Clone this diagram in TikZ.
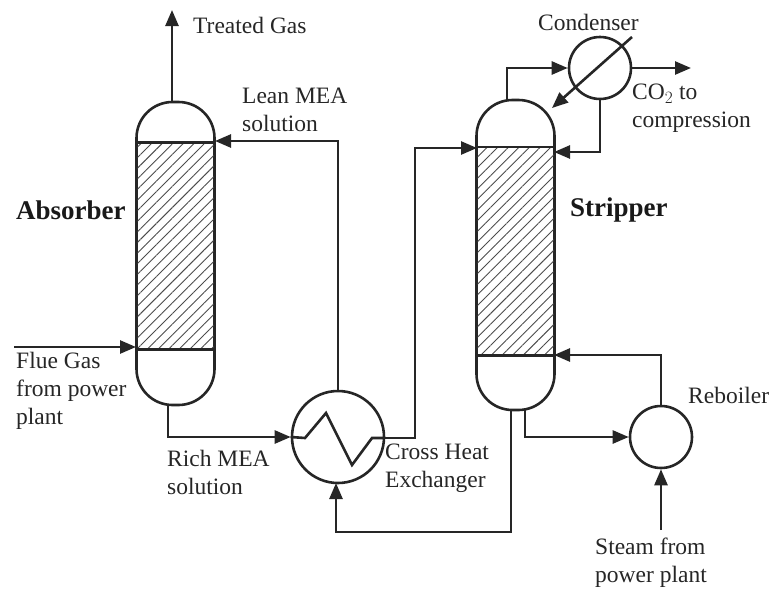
\documentclass[tikz,border=0pt]{standalone}
\usepackage{fontspec}
\setmainfont{Liberation Serif}
\usetikzlibrary{arrows.meta,patterns.meta}

\tikzset{
  line/.style={line width=2.6pt,draw=black!85},
  flow/.style={line,-{Stealth[length=16pt,width=13pt,inset=0pt]}},
  vessel/.style={line,minimum width=78pt,rounded corners=36pt,inner sep=0pt},
  bed/.style={draw=none,minimum width=76pt,inner sep=0pt,
    pattern={Lines[angle=45,distance=7.5pt,line width=.9pt]},pattern color=black!70},
  exchanger/.style={line,circle,inner sep=0pt},
  label/.style={anchor=west,align=left,inner sep=0pt,text=black!85,
    font=\fontsize{23.5}{28}\selectfont},
  title/.style={label,font=\fontsize{27}{28}\selectfont\bfseries,text=black!90}
}

\begin{document}
\begin{tikzpicture}[x=1pt,y=-1pt]
  \useasboundingbox (0,0) rectangle (771,592);

  \node[vessel,minimum height=303pt] (absorber) at (175.5,253.5) {};
  \node[vessel,minimum height=310pt] (stripper) at (515.5,255) {};
  \node[bed,minimum height=206pt] (absbed) at (175.5,246) {};
  \node[bed,minimum height=208pt] (stripbed) at (515.5,251) {};
  \node[exchanger,minimum size=92pt] (cross) at (338,437) {};
  \node[exchanger,minimum size=62pt] (condenser) at (600,68) {};
  \node[exchanger,minimum size=62pt] (reboiler) at (661,437) {};

  \draw[line] (absbed.north west) -- (absbed.north east);
  \draw[line] (absbed.south west) -- (absbed.south east);
  \draw[line] (stripbed.north west) -- (stripbed.north east);
  \draw[line] (stripbed.south west) -- (stripbed.south east);

  \coordinate (abstop) at (172,102);
  \coordinate (treated) at (172,10);
  \coordinate (lean) at (215,141);
  \coordinate (fluein) at (14,347);
  \coordinate (flue) at (136,347);
  \coordinate (absout) at (168,405);
  \coordinate (zigin) at (305,438);
  \coordinate (zigup) at (326,413);
  \coordinate (zigdown) at (352,465);
  \coordinate (zigout) at (372,438);
  \coordinate (hxout) at (384,438);
  \coordinate (stripin) at (477,148);
  \coordinate (stripout) at (511,410);
  \coordinate (stripreb) at (525,410);
  \coordinate (rebback) at (554,355);
  \coordinate (steam) at (661,530);
  \coordinate (striptop) at (507,101);
  \coordinate (co2) at (691,68);
  \coordinate (reflux) at (554,152);
  \coordinate (diagstart) at (632,37);
  \coordinate (diagend) at (552,108);

  \draw[flow] (abstop) -- (treated);
  \draw[flow] (cross.north) |- (lean);
  \draw[flow] (fluein) -- (flue);
  \draw[flow] (absout) |- (cross.west);
  \draw[line,line join=miter] (cross.west) -- (zigin) -- (zigup) -- (zigdown) -- (zigout) -- (hxout);
  \draw[flow] (hxout) -- (415,438) |- (stripin);
  \draw[flow] (stripout) |- (336,532) -- (336,483);
  \draw[flow] (stripreb) |- (reboiler.west);
  \draw[flow] (reboiler.north) |- (rebback);
  \draw[flow] (steam) -- (reboiler.south);
  \draw[flow] (striptop) |- (condenser.west);
  \draw[flow] (condenser.east) -- (co2);
  \draw[flow] (condenser.south) |- (reflux);
  \draw[flow] (diagstart) -- (diagend);

  \node[label] (treatedtext) at (193,25) {Treated Gas};
  \node[label] (leantext) at (242,110) {Lean MEA\\solution};
  \node[title] (absorbertext) at (16,210) {Absorber};
  \node[title] (strippertext) at (570,210) {Stripper};
  \node[label] (fluetext) at (16,391) {Flue Gas\\from power\\plant};
  \node[label] (richtext) at (167,472) {Rich MEA\\solution};
  \node[label] (crosstext) at (385,468) {Cross Heat\\Exchanger};
  \node[label] (condensertext) at (538,22) {Condenser};
  \node[label] (co2text) at (632,108) {CO$_2$ to\\compression};
  \node[label] (reboilertext) at (688,395) {Reboiler};
  \node[label] (steamtext) at (595,563) {Steam from\\power plant};
\end{tikzpicture}
\end{document}
